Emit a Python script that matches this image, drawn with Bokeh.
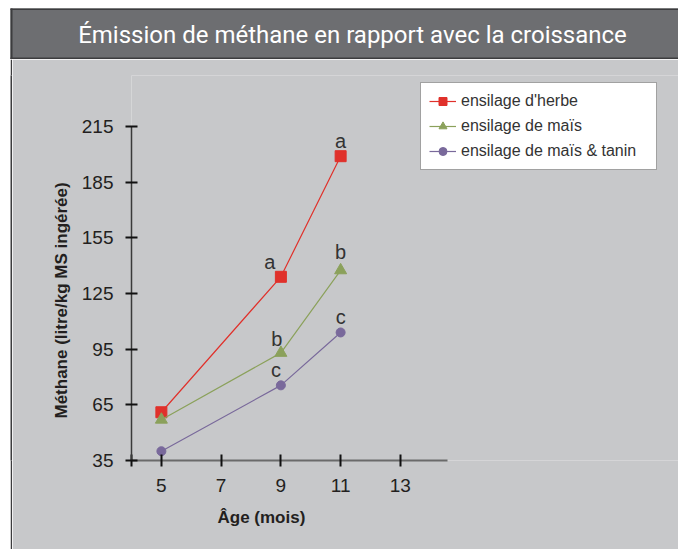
from bokeh.plotting import figure
from bokeh.layouts import column, row
from bokeh.models import Range1d, Legend, LegendItem, Title, FixedTicker, Spacer
from bokeh.core.properties import value
from bokeh.embed import file_html
from bokeh.resources import INLINE

# ---- data ----
ages = [5, 9, 11]
herbe = [61, 134, 199]
mais = [57, 93, 137.5]
tanin = [40, 75.5, 104]
letters_herbe = ["", "a", "a"]
letters_mais = ["", "b", "b"]
letters_tanin = ["", "c", "c"]
series_names = ["ensilage d'herbe", "ensilage de maïs", "ensilage de maïs & tanin"]
x_ticks = [4, 5, 7, 9, 11, 13]
y_ticks = [35, 65, 95, 125, 155, 185, 215]
title_text = "Émission de méthane en rapport avec la croissance"
x_title = "Âge (mois)"
y_title = "Méthane (litre/kg MS ingérée)"

BG = "#c7c8ca"
BAR = "#6d6e71"
EDGE = "#3c3c3e"
DARK = "#231f20"
FONT = "Liberation Sans"
TOTAL_W, TOTAL_H = 678, 549
BAR_H = 59
GAP_W = 10
EDGE_W = 2

# ---- title bar (its own small canvas, pixel space) ----
tf = figure(width=TOTAL_W, height=BAR_H, output_backend="svg", toolbar_location=None,
            x_range=Range1d(0, TOTAL_W), y_range=Range1d(BAR_H, 0),
            x_axis_location=None, y_axis_location=None, min_border=0)
tf.grid.visible = False
tf.outline_line_color = None
tf.background_fill_color = "white"
tf.border_fill_color = "white"
tf.quad(left=[10], right=[TOTAL_W + 5], top=[8], bottom=[BAR_H], fill_color=BAR, line_color=None)
tf.quad(left=[10, 10, 10], right=[TOTAL_W + 5, TOTAL_W + 5, 12], top=[8, 57, 8],
        bottom=[9.5, BAR_H, BAR_H], fill_color=EDGE, line_color=None)
tf.text(x=[352], y=[34], text=[title_text], text_align="center", text_baseline="middle",
        text_color="white", text_font=value("Roboto"), text_font_size="24px")

# ---- left white gap + dark border line ----
gap = Spacer(width=GAP_W, height=TOTAL_H - BAR_H)
sf = figure(width=EDGE_W, height=TOTAL_H - BAR_H, output_backend="svg",
            toolbar_location=None, x_axis_location=None, y_axis_location=None,
            min_border=0)
sf.grid.visible = False
sf.outline_line_color = None
sf.background_fill_color = EDGE
sf.border_fill_color = EDGE

# ---- main chart ----
MW, MH = TOTAL_W - GAP_W - EDGE_W, TOTAL_H - BAR_H
ML, MR, MT, MB = 119, 0, 16, 89
XS = 29.875
YS = 334 / 180
X0, Y0 = 4, 35
X1 = X0 + (MW - ML - MR) / XS
Y1 = Y0 + (MH - MT - MB) / YS

p = figure(width=MW, height=MH, output_backend="svg", toolbar_location=None,
           x_range=Range1d(X0, X1), y_range=Range1d(Y0, Y1), title=None,
           min_border_left=ML, min_border_right=MR, min_border_top=MT,
           min_border_bottom=MB)
p.background_fill_color = BG
p.border_fill_color = BG
p.outline_line_color = None
p.grid.visible = False

for ax in (p.xaxis[0], p.yaxis[0]):
    ax.major_tick_in = 6
    ax.major_tick_out = 6
    ax.minor_tick_line_color = None
    ax.major_tick_line_color = "#111111"
    ax.major_tick_line_width = 2
    ax.major_label_text_font = FONT
    ax.major_label_text_font_size = "19px"
    ax.major_label_text_color = DARK

p.xaxis.ticker = FixedTicker(ticks=x_ticks)
p.xaxis.major_label_overrides = {4: ""}
p.xaxis.bounds = (4, 14.586)
p.xaxis.axis_line_color = "#6a6a6a"
p.xaxis.axis_line_width = 2
p.xaxis.major_label_standoff = 12

p.yaxis.ticker = FixedTicker(ticks=y_ticks)
p.yaxis.bounds = (35, 215)
p.yaxis.axis_line_color = "#3a3a3a"
p.yaxis.axis_line_width = 1.5
p.yaxis.major_label_standoff = 12

p.add_layout(Title(text=y_title, align="left", offset=42, standoff=16,
                   text_font=FONT, text_font_style="bold", text_font_size="17px",
                   text_color=DARK), "left")
p.add_layout(Title(text=x_title, align="left", offset=86, standoff=22,
                   text_font=FONT, text_font_style="bold", text_font_size="17px",
                   text_color=DARK), "below")

colors = ["#e0312b", "#8ba15b", "#79699b"]
markers = ["square", "triangle", "circle"]
sizes = [11, 12, 9]
values_list = [herbe, mais, tanin]
letters_list = [letters_herbe, letters_mais, letters_tanin]
x_offs = [[0, -11, 0], [0, -4, 0], [0, -5, 0]]
y_offs = [[0, -15, -15], [0, -14, -18], [0, -15, -15]]

items = []
for name, vals, col, mk, sz, lets, xo, yo in zip(series_names, values_list, colors, markers,
                                                 sizes, letters_list, x_offs, y_offs):
    r1 = p.line(ages, vals, line_color=col, line_width=1.2)
    r2 = p.scatter(ages, vals, marker=mk, size=sz, fill_color=col, line_color=col)
    p.text(x=ages, y=vals, text=lets, x_offset=xo, y_offset=yo, text_align="center",
           text_baseline="middle", text_color="#333333", text_font=value(FONT),
           text_font_size="20px")
    items.append(LegendItem(label=name, renderers=[r1, r2]))

legend = Legend(items=items, location=(289, 290), padding=8, spacing=5, margin=0,
                label_height=20, glyph_height=20, glyph_width=27, label_standoff=5,
                label_width=187,
                label_text_font=FONT, label_text_font_size="16px",
                label_text_color="#333333", border_line_color="#444444",
                border_line_width=1.2, background_fill_color="white",
                background_fill_alpha=1)
p.add_layout(legend)

layout = column(tf, row(gap, sf, p, spacing=0), spacing=0)
open("out.html", "w").write(file_html(layout, INLINE))
